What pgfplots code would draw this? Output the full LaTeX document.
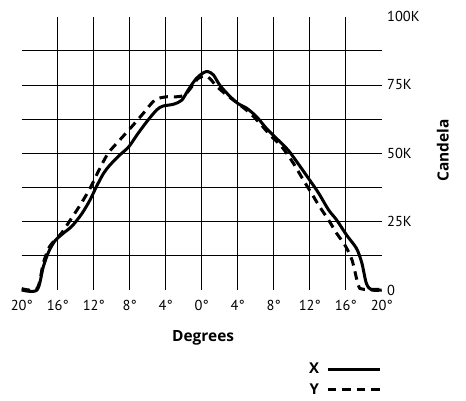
\documentclass[border=0pt]{standalone}
\usepackage{fontspec}
\setmainfont{PT Sans}
\newfontfamily\labelfont{Open Sans}
\usepackage{pgfplots}
\pgfplotsset{compat=1.18}

\begin{document}
\begin{tikzpicture}
  \begin{axis}[
      name=ax,
      scale only axis,
      width=360bp, height=273.3bp,
      xmin=-20, xmax=20, ymin=0, ymax=100,
      clip=false,
      axis line style={draw=none},
      tick style={draw=none},
      major tick length=0pt, minor tick length=0pt,
      grid=both,
      grid style={black, line width=0.9bp},
      minor grid style={black, line width=0.9bp},
      xtick={-16,-12,-8,-4,0,4,8,12,16},
      xticklabels={16°,12°,8°,4°,0°,4°,8°,12°,16°},
      ytick={25,50,75},
      yticklabels={25K,50K,75K},
      minor ytick={12.5,37.5,62.5,87.5},
      extra x ticks={-20,20},
      extra x tick labels={20°,20°},
      extra y ticks={0,100},
      extra y tick labels={0,100K},
      extra tick style={grid=none},
      yticklabel pos=right,
      tick label style={font=\fontsize{14.5}{16}\selectfont},
      xticklabel style={yshift=-7bp},
      yticklabel style={xshift=2bp},
      xlabel={Degrees},
      xlabel style={font=\labelfont\fontsize{15.5}{17}\selectfont\bfseries, at={(axis description cs:0.504,-0.176)}, anchor=center},
      ylabel={Candela},
      ylabel style={font=\labelfont\fontsize{15.5}{17}\selectfont\bfseries, at={(axis description cs:1.17,0.51)}, anchor=center, rotate=0},
      legend plot pos=right,
      legend cell align=right,
      legend style={draw=none, fill=none, at={(axis description cs:1.0,-0.26)}, anchor=north east,
        inner sep=0pt, row sep=4bp, font=\labelfont\fontsize{15}{17}\selectfont\bfseries,
        /tikz/every odd column/.append style={column sep=5bp}},
      legend image code/.code={\draw[#1] (0bp,0bp) -- (52.5bp,0bp);},
    ]
    % X
    \addplot[smooth, black, line width=3bp] coordinates {
      (-20,0) (-18.3,0) (-17.6,8.5) (-17.0,14) (-16.3,18) (-15.4,20.7)
      (-14.4,23.4) (-13.3,28) (-12.4,33) (-11.7,37.8) (-10.9,42.7)
      (-10.2,45.7) (-9.1,49.4) (-8.1,52.4) (-7.2,56.7) (-6.1,61.6)
      (-5.0,65.9) (-4.3,67.3) (-3.1,68) (-2.2,69.5) (-1.5,73.2)
      (-0.6,77.4) (0.2,79.5) (0.7,79.9) (1.3,78.7) (2.0,75) (3.0,71.3)
      (4.0,68.3) (5.0,66.5) (6.1,63.4) (7.2,59.1) (8.3,55.5) (9.6,51.2)
      (10.7,46.3) (12.0,40.2) (13.0,35.4) (14.1,29.3) (15.0,25.6)
      (16.1,20.1) (17.2,15.2) (17.8,9.8) (18.3,2.4) (18.9,0) (20,0)
    };
    % Y
    \addplot[smooth, black, line width=3bp, dash pattern=on 8.5bp off 6bp] coordinates {
      (-20,0.5) (-18.3,0.5) (-17.6,9.8) (-16.9,15.9) (-15.6,20.7)
      (-14.6,25.6) (-13.5,31.1) (-12.4,37.2) (-11.5,43.3) (-10.4,50)
      (-9.1,54.9) (-7.6,60.4) (-6.5,64.6) (-5.2,69.5) (-3.9,70.7)
      (-2.8,70.7) (-1.9,71.3) (-1.1,74.4) (-0.4,77.4) (0.4,78.3)
      (0.9,77.4) (1.7,74.4) (2.8,71.3) (4.0,68.3) (5.2,65.2) (6.3,61.6)
      (7.6,56.7) (8.9,52.4) (10.2,46.3) (11.3,40.2) (12.2,35.4)
      (13.1,30.5) (14.1,25.6) (15.0,20.7) (15.9,16.5) (16.7,11)
      (17.4,1.8) (17.9,0.3) (20,0.3)
    };
    \legend{X, Y}
  \end{axis}
  \pgfresetboundingbox
  \path[use as bounding box] (ax.south west) ++(-21.7bp,-111bp) rectangle ++(466bp,401bp);
\end{tikzpicture}
\end{document}
